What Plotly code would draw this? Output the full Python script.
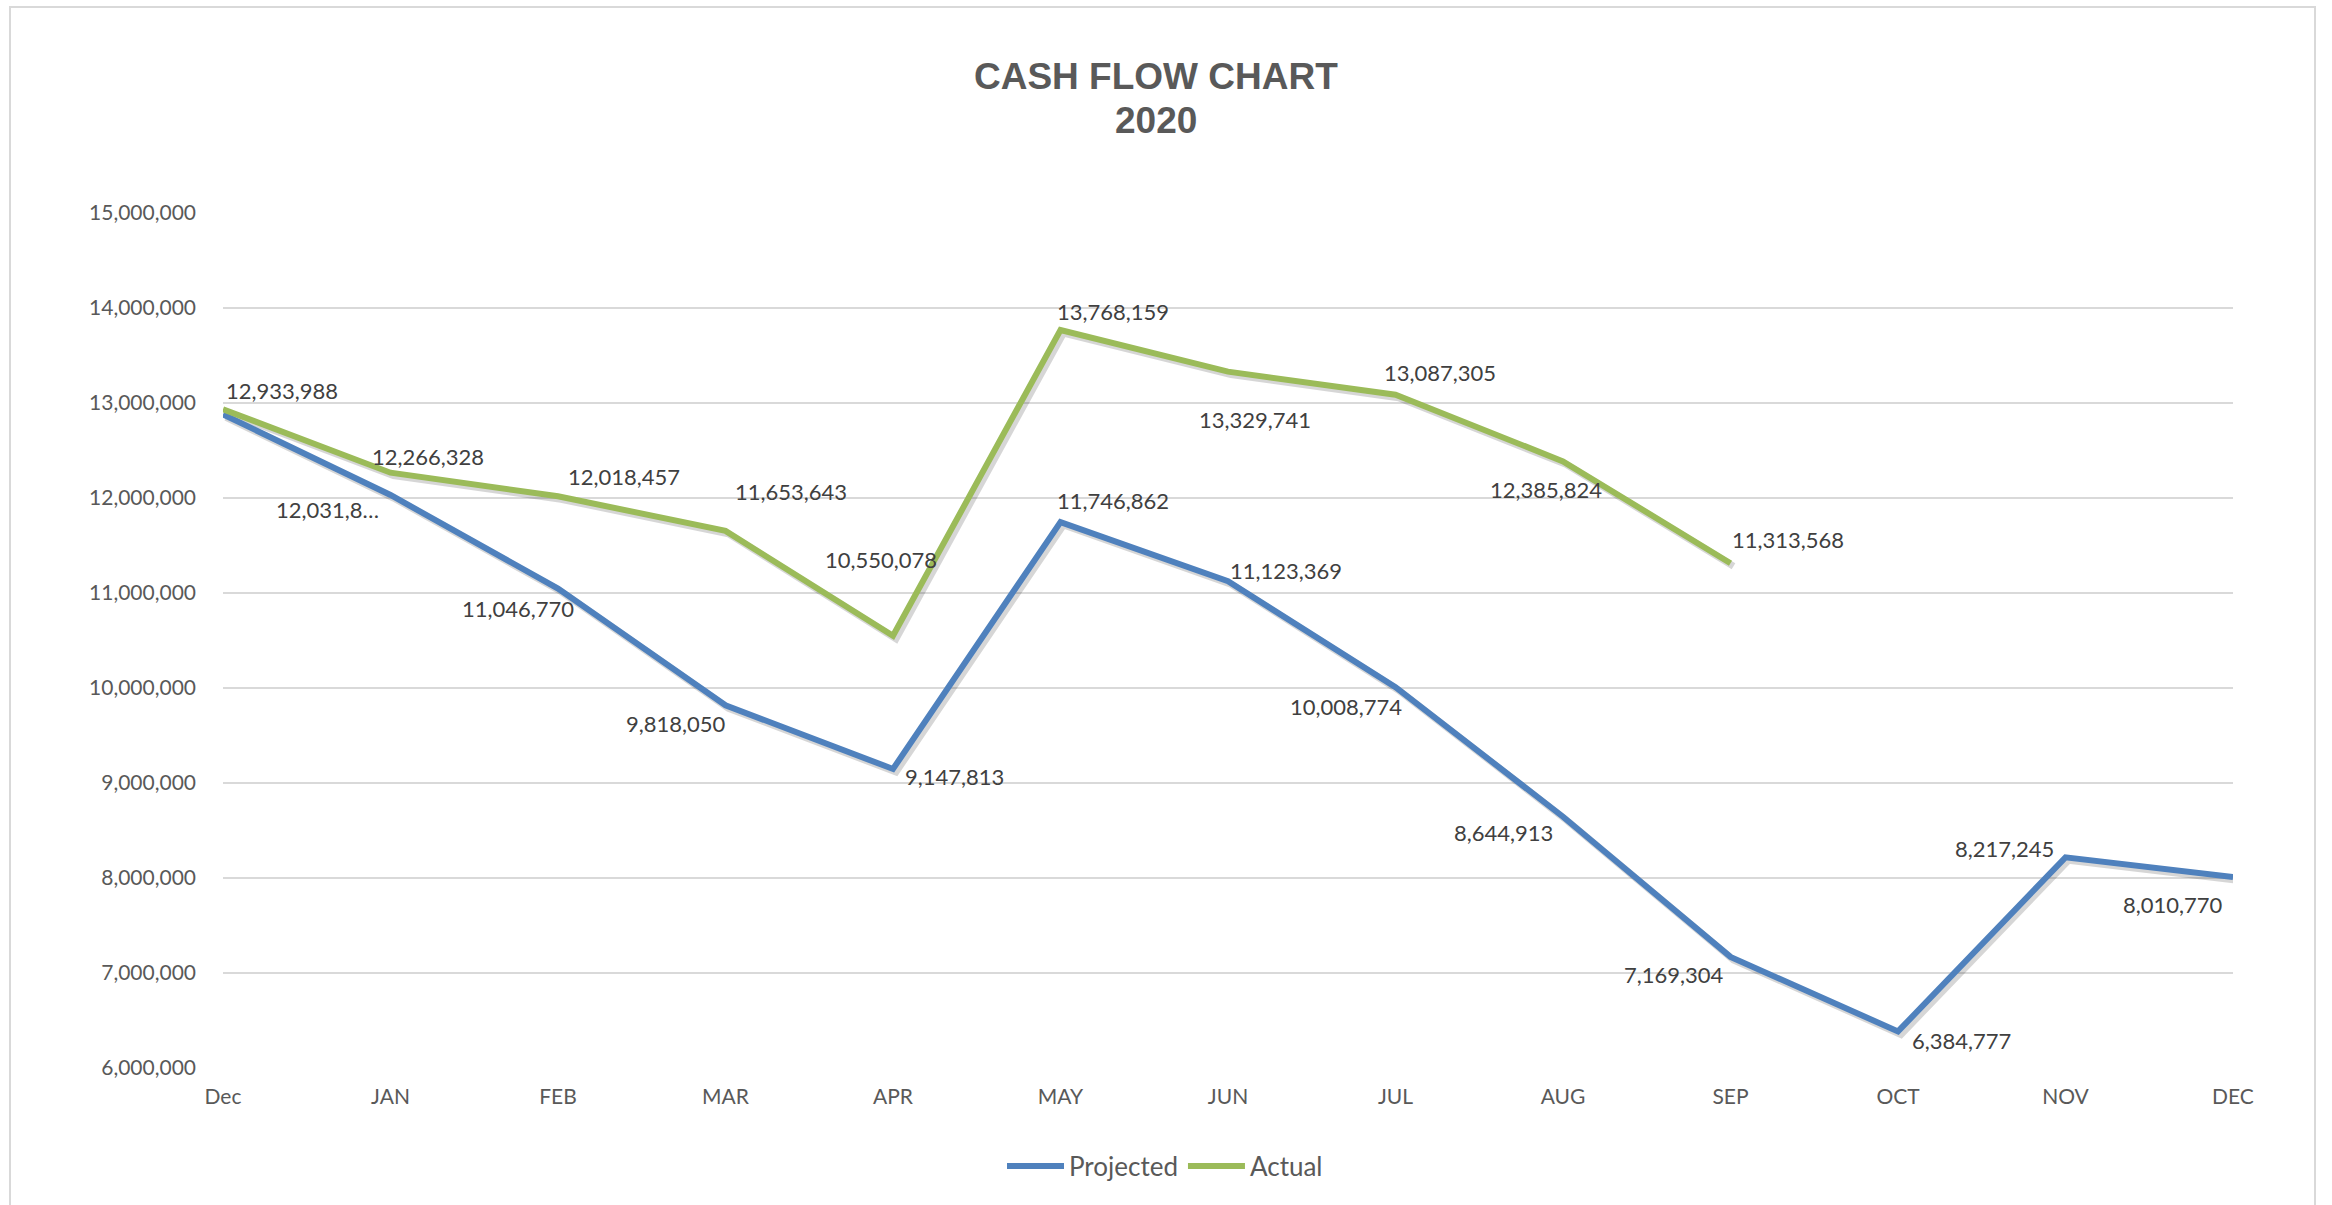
import plotly.graph_objects as go

# ---------------- data ----------------
categories = ["Dec", "JAN", "FEB", "MAR", "APR", "MAY", "JUN", "JUL", "AUG", "SEP", "OCT", "NOV", "DEC"]
projected = [12880000, 12031800, 11046770, 9818050, 9147813, 11746862, 11123369,
             10008774, 8644913, 7169304, 6384777, 8217245, 8010770]
actual = [12933988, 12266328, 12018457, 11653643, 10550078, 13768159, 13329741,
          13087305, 12385824, 11313568]
y_ticks = [6000000, 7000000, 8000000, 9000000, 10000000, 11000000, 12000000,
           13000000, 14000000, 15000000]
title_lines = ["CASH FLOW CHART", "2020"]

# ---------------- label styling (pixel offsets, dx right / dy down) ----------------
proj_show = [False, True, True, True, True, True, True, True, True, True, True, True, True]
proj_trunc = [None, 8, None, None, None, None, None, None, None, None, None, None, None]
proj_dx = [0, -63, -40, -50, 61, 52, 58, -50, -60, -57, 63, -61, -60]
proj_dy = [0, 15, 20, 18, 8, -22, -11, 19, 16, 18, 9, -9, 28]
act_dx = [59, 37, 66, 65, -12, 52, 27, 44, -17, 57]
act_dy = [-19, -16, -20, -39, -76, -19, 48, -22, 28, -24]
title_y_px = [76, 120]

BLUE = "#4F81BD"
GREEN = "#9BBB59"
GRID = "#D9D9D9"
TXT = "#595959"
LBL = "#404040"
FONT = "Lato, Noto Sans, sans-serif"

W, H = 2332, 1205
ML, MR, MT, MB = 223, 99, 213, 137
PW, PH = W - ML - MR, H - MT - MB
YMIN, YMAX = y_ticks[0], y_ticks[-1]
NCAT = len(categories) - 1

# shadow offsets (px) converted to axis units
SH_X = 3.0 * NCAT / PW
SH_Y = 3.0 * (YMAX - YMIN) / PH

fig = go.Figure()

# shadows (base axes, shifted ranges)
fig.add_trace(go.Scatter(x=categories, y=projected, mode="lines", xaxis="x", yaxis="y",
                         line=dict(color="rgba(0,0,0,0.16)", width=7),
                         showlegend=False, hoverinfo="skip"))
fig.add_trace(go.Scatter(x=categories[:len(actual)], y=actual, mode="lines", xaxis="x", yaxis="y",
                         line=dict(color="rgba(0,0,0,0.16)", width=7),
                         showlegend=False, hoverinfo="skip"))

# main lines (overlay axes)
fig.add_trace(go.Scatter(x=categories, y=projected, mode="lines", name="Projected",
                         xaxis="x2", yaxis="y2", line=dict(color=BLUE, width=6)))
fig.add_trace(go.Scatter(x=categories[:len(actual)], y=actual, mode="lines", name="Actual",
                         xaxis="x2", yaxis="y2", line=dict(color=GREEN, width=6)))

annotations = []


def fmt(v, trunc=None):
    s = f"{v:,}"
    if trunc:
        s = s[:trunc] + "…"
    return s


for i, v in enumerate(projected):
    if not proj_show[i]:
        continue
    annotations.append(dict(x=categories[i], y=v, xref="x2", yref="y2", text=fmt(v, proj_trunc[i]),
                            showarrow=False, xshift=proj_dx[i], yshift=-proj_dy[i],
                            font=dict(family=FONT, size=22, color=LBL)))
for i, v in enumerate(actual):
    annotations.append(dict(x=categories[i], y=v, xref="x2", yref="y2", text=fmt(v),
                            showarrow=False, xshift=act_dx[i], yshift=-act_dy[i],
                            font=dict(family=FONT, size=22, color=LBL)))

# title (two lines)
for line, ypx in zip(title_lines, title_y_px):
    annotations.append(dict(x=(1156 - ML) / PW, y=(H - MB - ypx) / PH, xref="paper", yref="paper",
                            text=f"<b>{line}</b>", showarrow=False,
                            xanchor="center", yanchor="middle",
                            font=dict(family="Liberation Sans, Arial, sans-serif", size=37, color=TXT)))

fig.update_layout(
    width=W, height=H,
    margin=dict(l=ML, r=MR, t=MT, b=MB, pad=0),
    paper_bgcolor="white", plot_bgcolor="white",
    showlegend=True,
    legend=dict(orientation="h", xref="container", yref="container",
                x=1165 / W, xanchor="center", y=1 - 1166 / H, yanchor="middle",
                font=dict(family=FONT, size=26, color=TXT), itemwidth=57,
                tracegroupgap=0, traceorder="normal"),
    xaxis=dict(type="category", categoryarray=categories, range=[0 - SH_X, NCAT - SH_X],
               visible=False, fixedrange=True),
    yaxis=dict(range=[YMIN + SH_Y, YMAX + SH_Y], visible=False, fixedrange=True),
    xaxis2=dict(type="category", categoryarray=categories, range=[0, NCAT],
                overlaying="x", side="bottom", showgrid=False, zeroline=False,
                showline=False, ticks="", ticklabelstandoff=14,
                tickfont=dict(family=FONT, size=21, color=TXT)),
    yaxis2=dict(range=[YMIN, YMAX], tickvals=y_ticks, tickformat=",",
                overlaying="y", side="left", showgrid=True, gridcolor=GRID, gridwidth=1.5,
                zeroline=False, showline=False, ticks="", ticklabelstandoff=26,
                tickfont=dict(family=FONT, size=21, color=TXT)),
    annotations=annotations,
    shapes=[dict(type="rect", xref="paper", yref="paper",
                 x0=(10 - ML) / PW, x1=(2315 - ML) / PW,
                 y0=(H - MB - 1215) / PH, y1=(H - MB - 7) / PH,
                 line=dict(color=GRID, width=2), fillcolor="rgba(0,0,0,0)", layer="below")],
)

fig.write_html("out.html", config={"displayModeBar": False},
               post_script="document.body.style.margin='0';document.body.style.overflow='hidden';")
